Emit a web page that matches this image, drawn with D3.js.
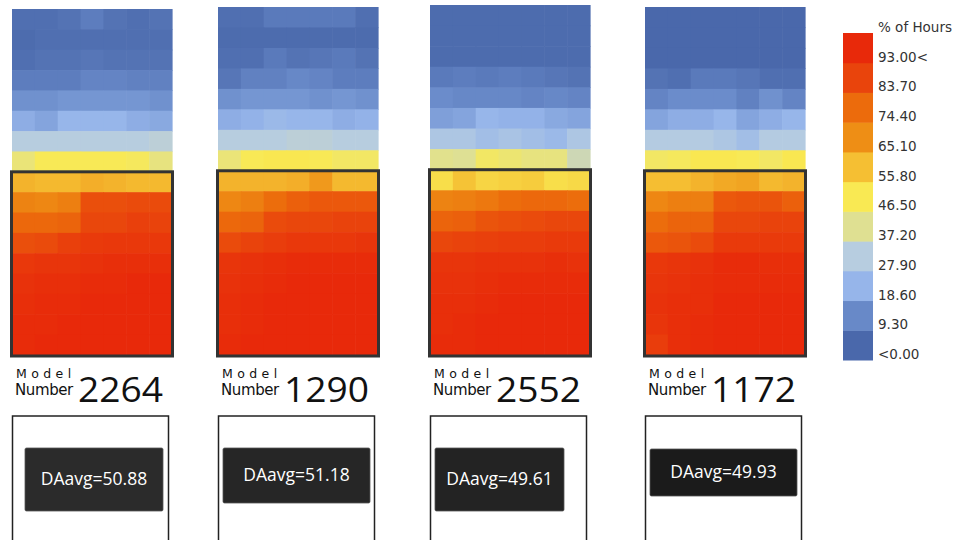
<!DOCTYPE html>
<html><head><meta charset="utf-8">
<script src="https://cdn.jsdelivr.net/npm/d3@7"></script>
<style>body{margin:0;background:#fff}svg{display:block}</style>
</head><body>
<svg id="c" width="956" height="540"></svg>
<script>
// ---------- data ----------
const models = ["2264", "1290", "2552", "1172"];
const daavg = [50.88, 51.18, 49.61, 49.93];
const legendTicks = ["<0.00","9.30","18.60","27.90","37.20","46.50","55.80","65.10","74.40","83.70","93.00<"];
const legendValues = [0, 9.3, 18.6, 27.9, 37.2, 46.5, 55.8, 65.1, 74.4, 83.7, 93];
const legendColors = ["#4a68ab","#6889c8","#96b5ea","#b7cde0","#dfe092","#f9e953","#f5bf33","#ee8e15","#ec6b0c","#e9440c","#e8290a"];
const legendTitle = "% of Hours";

const model2264 = [
 [2,2,3,6,3,2,3],[1,2,2,2,2,2,2],[2,3,3,4,3,3,3],[6,6,6,8,8,7,7],
 [11,11,12,12,12,12,11],[17,15,19,19,19,17,16],[28,28,28,28,28,28,29],
 [41,46,46,46,46,45,40],[58,57,57,59,58,57,57],[68,67,69,81,81,82,82],
 [75,75,76,83,83,85,84],[81,82,85,87,88,88,88],[88,89,89,90,91,91,91],
 [90,91,91,92,92,93,93],[91,92,92,93,93,93,93],[92,92,93,93,93,93,93],
 [92,93,93,93,93,93,93]];
const model1290 = [
 [2,2,5,5,5,5,2],[1,1,1,1,1,1,1],[2,2,5,3,4,5,3],[4,7,7,9,8,6,6],
 [11,12,12,12,11,12,11],[17,18,20,19,19,17,18],[28,28,28,29,29,28,28],
 [41,46,47,47,46,44,44],[58,58,58,59,63,57,57],[67,69,74,77,79,79,79],
 [75,76,82,83,83,84,84],[82,84,86,88,88,88,89],[89,90,91,92,92,92,92],
 [90,91,92,93,93,93,93],[91,92,93,93,93,93,93],[91,92,93,93,93,93,93],
 [92,93,93,93,93,93,93]];
const model2552 = [
 [1,1,1,1,1,1,1],[1,1,1,1,1,1,1],[1,1,1,1,1,1,1],[5,6,5,6,5,4,3],
 [10,9,9,9,8,9,8],[14,15,19,18,18,16,15],[25,25,22,24,22,20,25],
 [38,37,44,42,40,40,33],[49,55,51,52,53,49,50],[68,69,71,74,75,75,74],
 [76,77,80,81,82,83,83],[83,84,85,86,86,87,87],[89,89,90,90,90,91,90],
 [90,90,91,92,92,92,92],[91,91,92,93,93,93,93],[91,92,93,93,93,93,93],
 [92,92,93,93,93,93,93]];
const model1172 = [
 [0,0,0,0,0,0,0],[0,0,0,0,0,0,0],[0,0,0,0,0,0,0],[3,2,5,5,4,2,2],
 [8,10,10,10,7,11,8],[15,17,17,19,15,17,19],[27,27,27,25,22,27,27],
 [44,45,47,47,46,44,47],[56,56,58,60,61,57,58],[67,69,69,79,80,80,77],
 [74,76,76,83,83,84,84],[79,80,82,87,87,87,87],[88,89,90,92,92,91,91],
 [89,90,91,92,92,92,92],[90,91,91,93,93,93,93],[89,91,92,93,93,93,93],
 [86,91,92,93,93,93,93]];
const grids = [model2264, model1290, model2552, model1172];

// ---------- layout ----------
const panelLeft = [12, 218, 430, 645];
const panelTop = [9, 7, 5, 7];
const panelW = 160, gridBottom = 355, nCols = 7, nRows = 17, boxStartRow = 8;
const innerBox = [[13,448,138,63],[5,448,147,55],[5,448,129,63],[5,449,147,47]];
const innerFill = ["#2b2b2b","#262626","#232323","#1b1b1b"];

const svg = d3.select("#c");
const color = d3.scaleLinear().domain(legendValues).range(legendColors).clamp(true);

grids.forEach((grid, p) => {
  const g = svg.append("g");
  const x = d3.scaleBand().domain(d3.range(nCols)).range([panelLeft[p], panelLeft[p] + panelW]);
  const y = d3.scaleBand().domain(d3.range(nRows)).range([panelTop[p], gridBottom]);
  const cells = grid.flatMap((row, r) => row.map((v, c) => ({r, c, v})));
  g.selectAll("rect.cell").data(cells).join("rect")
    .attr("class", "cell")
    .attr("x", d => x(d.c)).attr("y", d => y(d.r))
    .attr("width", x.bandwidth() + 0.6).attr("height", y.bandwidth() + 0.6)
    .attr("fill", d => color(d.v));
  // highlight frame
  g.append("rect")
    .attr("x", panelLeft[p] - 0.5).attr("y", y(boxStartRow))
    .attr("width", panelW + 1).attr("height", gridBottom - y(boxStartRow) + 1)
    .attr("fill", "none").attr("stroke", "#333").attr("stroke-width", 3);

  // model label
  const lx = panelLeft[p] + 4;
  g.append("text").attr("x", lx).attr("y", 378)
    .attr("font-family", "DejaVu Sans, Verdana, sans-serif").attr("font-size", 12.5)
    .attr("letter-spacing", 4.4).attr("fill", "#111").text("Model");
  g.append("text").attr("x", lx - 1).attr("y", 395)
    .attr("font-family", "DejaVu Sans, Verdana, sans-serif").attr("font-size", 15)
    .attr("letter-spacing", -0.4).attr("fill", "#111").text("Number");
  g.append("text").attr("x", panelLeft[p] + 66).attr("y", 402)
    .attr("font-family", "Open Sans, DejaVu Sans, sans-serif").attr("font-weight", 400)
    .attr("font-size", 34).attr("textLength", 85).attr("lengthAdjust", "spacingAndGlyphs")
    .attr("fill", "#111").text(models[p]);

  // DAavg boxes
  g.append("rect").attr("x", panelLeft[p] + 0.5).attr("y", 416)
    .attr("width", 156).attr("height", 140)
    .attr("fill", "#fff").attr("stroke", "#222").attr("stroke-width", 1.5);
  const [bx, by, bw, bh] = innerBox[p];
  g.append("rect").attr("x", panelLeft[p] + bx).attr("y", by)
    .attr("width", bw).attr("height", bh).attr("rx", 1.5)
    .attr("fill", innerFill[p]).attr("stroke", "#555").attr("stroke-width", 0.8);
  g.append("text").attr("x", panelLeft[p] + bx + bw / 2).attr("y", by + bh / 2 + 5)
    .attr("text-anchor", "middle")
    .attr("font-family", "Open Sans, sans-serif").attr("font-size", 17.5)
    .attr("fill", "#fff").text("DAavg=" + daavg[p].toFixed(2));
});

// ---------- legend ----------
const lg = svg.append("g");
const ly = d3.scaleBand().domain(d3.range(legendTicks.length).reverse()).range([33, 360]);
lg.selectAll("rect").data(d3.range(legendTicks.length)).join("rect")
  .attr("x", 843).attr("width", 30)
  .attr("y", i => ly(i)).attr("height", ly.bandwidth() + 0.5)
  .attr("fill", i => legendColors[i]);
lg.selectAll("text.tick").data(legendTicks).join("text")
  .attr("class", "tick")
  .attr("x", 878).attr("y", (t, i) => ly(i) + ly.bandwidth() - 1)
  .attr("font-family", "DejaVu Sans, Verdana, sans-serif").attr("font-size", 13.5)
  .attr("fill", "#333").text(t => t);
lg.append("text").attr("x", 878).attr("y", 32)
  .attr("font-family", "DejaVu Sans, Verdana, sans-serif").attr("font-size", 13.5)
  .attr("fill", "#333").text(legendTitle);
</script>
</body></html>
